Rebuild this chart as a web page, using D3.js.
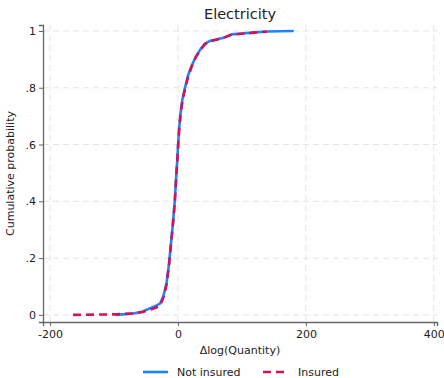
<!DOCTYPE html>
<html>
<head>
<meta charset="utf-8">
<script src="https://cdn.jsdelivr.net/npm/d3@7"></script>
<style>
  body { margin: 0; background: #fff; }
  svg text { font-family: "DejaVu Sans", sans-serif; fill: #222; }
</style>
</head>
<body>
<div id="chart"></div>
<script>
// data
var notInsuredX = [-97, -70, -55, -45, -35, -28, -23, -18, -14, -11, -8, -5, -3, -1, 0.5, 2, 4, 7, 11, 16, 22, 28, 35, 42, 50, 60, 70, 76, 84, 100, 120, 140, 160, 181];
var notInsuredP = [0, 0.005, 0.012, 0.022, 0.032, 0.04, 0.065, 0.11, 0.18, 0.25, 0.32, 0.40, 0.48, 0.55, 0.61, 0.66, 0.71, 0.76, 0.80, 0.845, 0.88, 0.91, 0.935, 0.955, 0.965, 0.97, 0.975, 0.98, 0.988, 0.991, 0.995, 0.998, 0.999, 1.0];
var insuredX = [-164, -97, -70, -55, -45, -35, -28, -23, -18, -14, -11, -8, -5, -3, -1, 0.5, 2, 4, 7, 11, 16, 22, 28, 35, 42, 50, 60, 70, 76, 84, 100, 120, 139];
var insuredP = [0, 0.002, 0.005, 0.010, 0.018, 0.025, 0.032, 0.06, 0.105, 0.175, 0.245, 0.315, 0.395, 0.475, 0.545, 0.605, 0.655, 0.705, 0.755, 0.795, 0.84, 0.878, 0.908, 0.933, 0.953, 0.964, 0.969, 0.975, 0.98, 0.987, 0.99, 0.994, 0.998];
var xTicks = [-200, 0, 200, 400];
var yTicks = [0, 0.2, 0.4, 0.6, 0.8, 1];
var yTickLabels = ["0", ".2", ".4", ".6", ".8", "1"];

var W = 444, H = 378;
var margin = { top: 25, right: 7, bottom: 56, left: 43 };
var w = W - margin.left - margin.right;
var h = H - margin.top - margin.bottom;

var svg = d3.select("#chart").append("svg")
    .attr("width", W)
    .attr("height", H);

var g = svg.append("g")
    .attr("transform", "translate(" + margin.left + "," + margin.top + ")");

var xScale = d3.scaleLinear().domain([-211, 405]).range([0, w]);
var yScale = d3.scaleLinear().domain([-0.025, 1.021]).range([h, 0]);

// grid
g.selectAll(".gx").data(xTicks).enter().append("line")
    .attr("x1", function(d) { return xScale(d); })
    .attr("x2", function(d) { return xScale(d); })
    .attr("y1", 0).attr("y2", h)
    .style("stroke", "#e4e4e4").style("stroke-dasharray", "6,4");
g.selectAll(".gy").data(yTicks).enter().append("line")
    .attr("x1", 0).attr("x2", w)
    .attr("y1", function(d) { return yScale(d); })
    .attr("y2", function(d) { return yScale(d); })
    .style("stroke", "#e4e4e4").style("stroke-dasharray", "6,4");

// axes
var xAxis = d3.axisBottom(xScale).tickValues(xTicks).tickSize(4).tickPadding(4)
    .tickFormat(function(d) { return String(d); });
var yAxis = d3.axisLeft(yScale).tickValues(yTicks).tickSize(4).tickPadding(3)
    .tickFormat(function(d, i) { return yTickLabels[i]; });

var gx = g.append("g").attr("transform", "translate(0," + h + ")").call(xAxis);
var gy = g.append("g").call(yAxis);
[gx, gy].forEach(function(a) {
    a.select(".domain").style("stroke", "#666").style("stroke-width", 1.3);
    a.selectAll(".tick line").style("stroke", "#666");
    a.selectAll("text").style("font-size", "11px").style("fill", "#222");
});

// lines
var line = d3.line()
    .x(function(d) { return xScale(d[0]); })
    .y(function(d) { return yScale(d[1]); });

g.append("path")
    .datum(d3.zip(notInsuredX, notInsuredP))
    .attr("d", line)
    .style("fill", "none")
    .style("stroke", "#1a85ff")
    .style("stroke-width", 2.6);

g.append("path")
    .datum(d3.zip(insuredX, insuredP))
    .attr("d", line)
    .style("fill", "none")
    .style("stroke", "#d41159")
    .style("stroke-width", 2.6)
    .style("stroke-dasharray", "8,5");

// title and labels
svg.append("text").attr("x", 240).attr("y", 19)
    .attr("text-anchor", "middle").style("font-size", "14.5px").text("Electricity");
svg.append("text").attr("x", 240).attr("y", 354)
    .attr("text-anchor", "middle").style("font-size", "11px").text("\u0394log(Quantity)");
svg.append("text")
    .attr("transform", "translate(14," + (margin.top + h / 2) + ") rotate(-90)")
    .attr("text-anchor", "middle").style("font-size", "11px").text("Cumulative probability");

// legend
var legend = svg.append("g").attr("transform", "translate(0,372)");
legend.append("line").attr("x1", 143).attr("x2", 168).attr("y1", 0).attr("y2", 0)
    .style("stroke", "#1a85ff").style("stroke-width", 2.6);
legend.append("text").attr("x", 177).attr("y", 4).style("font-size", "11px").text("Not insured");
legend.append("line").attr("x1", 263).attr("x2", 286).attr("y1", 0).attr("y2", 0)
    .style("stroke", "#d41159").style("stroke-width", 2.6).style("stroke-dasharray", "8,5");
legend.append("text").attr("x", 298).attr("y", 4).style("font-size", "11px").text("Insured");
</script>
</body>
</html>
